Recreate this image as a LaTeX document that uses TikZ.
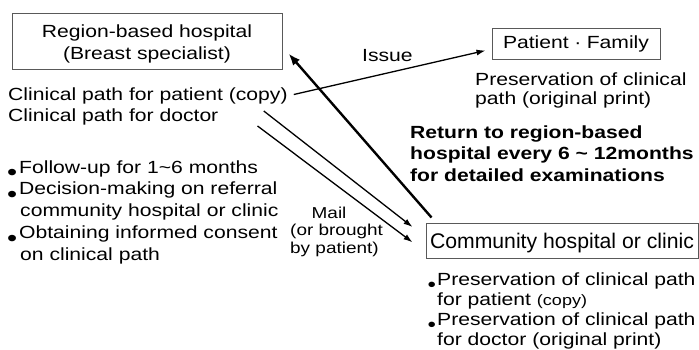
\documentclass[tikz,border=0pt]{standalone}
\usepackage{fontspec}
\setmainfont[FakeStretch=1.2]{Liberation Sans}
\newfontfamily\plainfont{Liberation Sans}
\usetikzlibrary{arrows.meta}
\newcommand{\mybul}{\makebox[11pt][l]{\hspace{-1pt}\raisebox{-7.5pt}{\fontsize{24}{24}\selectfont •}}}
\newcommand{\mybulr}{\makebox[8pt][l]{\hspace{-1.5pt}\raisebox{-6pt}{\fontsize{20}{20}\selectfont •}}}
\begin{document}
\begin{tikzpicture}[x=1pt, y=-1pt,
  font=\fontsize{17.6}{21.5}\selectfont,
  box/.style={draw=black!65, line width=1pt, inner sep=0pt, align=center},
  txt/.style={inner sep=0pt, anchor=base west, align=left},
  arr/.style={line width=1.3pt, -{Latex[length=9pt,width=6pt]}},
  bigarr/.style={line width=2.4pt, -{Latex[length=12pt,width=9pt]}}]
\useasboundingbox (0,0) rectangle (699,349);

% boxes
\node[box, minimum width=270, minimum height=56] (reg) at (147,41)
  {\rule{0pt}{19pt}Region-based hospital\\(Breast specialist)};
\node[box, minimum width=168, minimum height=31] (pat) at (576,43.5)
  {Patient\hspace{5.5pt}·\hspace{5.5pt}Family};
\node[box, minimum width=272, minimum height=35, text depth=0pt,
  font=\plainfont\fontsize{21.2}{24}\selectfont] (com) at (562,240.5)
  {Community hospital or clinic};

% texts (base anchor of a multi-line node = baseline of its last line)
\node[txt] (cp1) at (8,100.5) {Clinical path for patient (copy)};
\node[txt] (cp2) at (8,121.5) {Clinical path for doctor};
\node[txt, font=\fontsize{17.6}{21.9}\selectfont] (tasks) at (8,260.6)
  {\mybul Follow-up for 1\textasciitilde 6 months\\
   \mybul Decision-making on referral\\
   \hspace*{12pt}community hospital or clinic\\
   \mybul Obtaining informed consent\\
   \hspace*{12pt}on clinical path};
\node[txt] (iss) at (362,61) {Issue};
\node[txt, font=\bfseries\fontsize{17.6}{21.5}\selectfont] (ret) at (410,181.3)
  {Return to region-based\\hospital every 6 \textasciitilde{} 12months\\for detailed examinations};
\node[txt, font=\fontsize{15.8}{17.5}\selectfont] (mail) at (290,253.3)
  {\hspace*{21.5pt}Mail\\(or brought\\by patient)};
\node[txt, font=\fontsize{17.6}{19.5}\selectfont] (patp) at (475,104.5)
  {Preservation of clinical\\path (original print)};
\node[txt, font=\fontsize{17.6}{20}\selectfont] (comp) at (429,345.5)
  {\mybulr Preservation of clinical path\\
   \hspace*{8pt}for patient {\fontsize{15}{15}\selectfont (copy)}\\
   \mybulr Preservation of clinical path\\
   \hspace*{8pt}for doctor (original print)};

% connectors
\draw[bigarr] ([shift={(6,-5)}]com.north west) -- ([shift={(6,-16)}]reg.south east);
\draw[arr] ([shift={(6,-6)}]cp1.base east) -- ([shift={(-6,-9)}]pat.south west);
\draw[arr] ([shift={(-24,10.5)}]cp1.base east) -- ([shift={(-13,-13.5)}]com.west);
\draw[arr] ([shift={(39,4.5)}]cp2.base east) -- ([shift={(-13,1.8)}]com.west);
\end{tikzpicture}
\end{document}
